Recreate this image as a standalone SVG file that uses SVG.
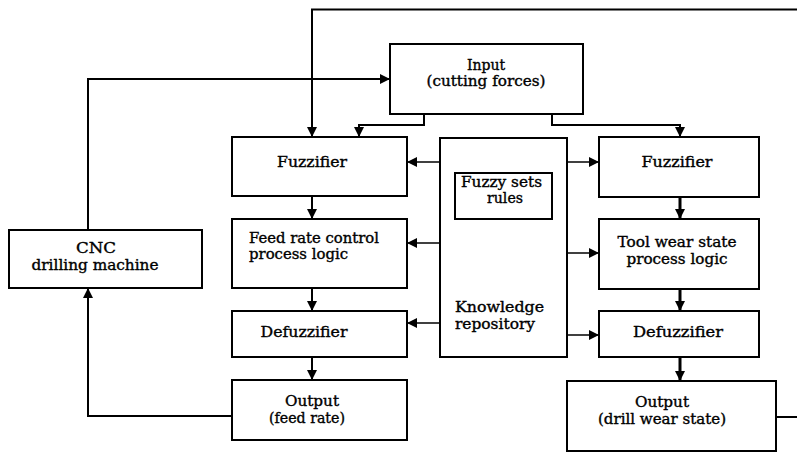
<svg xmlns="http://www.w3.org/2000/svg" width="797" height="452" viewBox="0 0 797 452">
<style>
.box{fill:#fff;stroke:#000;stroke-width:2}
.t{font-family:"DejaVu Serif","Liberation Serif",serif;font-size:14px;fill:#000;stroke:#000;stroke-width:0.35}
.c{text-anchor:middle}
.ln{fill:none;stroke:#000;stroke-width:2}
.thin{fill:none;stroke:#000;stroke-width:1.5}
.thick{fill:none;stroke:#000;stroke-width:3}
</style>
<defs>
<marker id="ah" viewBox="0 0 10 10" refX="10" refY="5" markerWidth="10" markerHeight="10" markerUnits="userSpaceOnUse" orient="auto">
<path d="M0,0 L10,5 L0,10 Z" fill="#000"/>
</marker>
</defs>
<rect width="797" height="452" fill="#fff"/>
<g id="connectors">
<path class="ln" d="M797,9.5 H312 V137" marker-end="url(#ah)"/>
<path class="ln" d="M88,230 V79 H390" marker-end="url(#ah)"/>
<path class="ln" d="M424,114 V125 H359 V137" marker-end="url(#ah)"/>
<path class="ln" d="M552,114 V125 H680 V137" marker-end="url(#ah)"/>
<path class="thin" d="M440,162 H407" marker-end="url(#ah)"/>
<path class="thin" d="M567,162 H599" marker-end="url(#ah)"/>
<path class="thin" d="M440,243 H407" marker-end="url(#ah)"/>
<path class="thin" d="M567,253 H599" marker-end="url(#ah)"/>
<path class="thin" d="M440,323 H407" marker-end="url(#ah)"/>
<path class="thin" d="M567,335 H599" marker-end="url(#ah)"/>
<path class="ln" d="M312,196 V219" marker-end="url(#ah)"/>
<path class="ln" d="M312,288 V311" marker-end="url(#ah)"/>
<path class="ln" d="M312,357 V380" marker-end="url(#ah)"/>
<path class="thick" d="M680,197 V219" marker-end="url(#ah)"/>
<path class="thick" d="M680,289 V311" marker-end="url(#ah)"/>
<path class="thick" d="M680,357 V381" marker-end="url(#ah)"/>
<path class="ln" d="M232,416 H88 V288" marker-end="url(#ah)"/>
<path class="ln" d="M776,417 H797"/>
</g>
<g id="input">
<rect class="box" x="390" y="44" width="193" height="70"/>
<text class="t c" x="486" y="70">Input</text>
<text class="t c" x="486" y="86" textLength="119" lengthAdjust="spacingAndGlyphs">(cutting forces)</text>
</g>
<g id="fuzzifier-left">
<rect class="box" x="232" y="137" width="175" height="59"/>
<text class="t c" x="312" y="167" textLength="70" lengthAdjust="spacingAndGlyphs">Fuzzifier</text>
</g>
<g id="fuzzifier-right">
<rect class="box" x="599" y="137" width="160" height="60"/>
<text class="t c" x="677" y="167" textLength="71" lengthAdjust="spacingAndGlyphs">Fuzzifier</text>
</g>
<g id="knowledge">
<rect class="box" x="440" y="138" width="127" height="219"/>
<text class="t" x="455" y="312" textLength="89" lengthAdjust="spacingAndGlyphs">Knowledge</text>
<text class="t" x="455" y="329" textLength="80" lengthAdjust="spacingAndGlyphs">repository</text>
</g>
<g id="fuzzy-sets">
<rect class="box" x="455" y="173" width="97" height="46"/>
<text class="t" x="461" y="187" textLength="81" lengthAdjust="spacingAndGlyphs">Fuzzy sets</text>
<text class="t c" x="505" y="203" textLength="36" lengthAdjust="spacingAndGlyphs">rules</text>
</g>
<g id="feed-rate-logic">
<rect class="box" x="232" y="219" width="175" height="69"/>
<text class="t" x="249" y="243" textLength="130" lengthAdjust="spacingAndGlyphs">Feed rate control</text>
<text class="t" x="249" y="259" textLength="99" lengthAdjust="spacingAndGlyphs">process logic</text>
</g>
<g id="tool-wear-logic">
<rect class="box" x="599" y="219" width="160" height="70"/>
<text class="t c" x="677" y="247" textLength="119" lengthAdjust="spacingAndGlyphs">Tool wear state</text>
<text class="t c" x="677" y="264" textLength="101" lengthAdjust="spacingAndGlyphs">process logic</text>
</g>
<g id="cnc">
<rect class="box" x="9" y="230" width="193" height="58"/>
<text class="t c" x="96" y="253" textLength="40" lengthAdjust="spacingAndGlyphs">CNC</text>
<text class="t c" x="95" y="270" textLength="127" lengthAdjust="spacingAndGlyphs">drilling machine</text>
</g>
<g id="defuzzifier-left">
<rect class="box" x="232" y="311" width="175" height="46"/>
<text class="t c" x="304" y="337" textLength="87" lengthAdjust="spacingAndGlyphs">Defuzzifier</text>
</g>
<g id="defuzzifier-right">
<rect class="box" x="599" y="311" width="160" height="46"/>
<text class="t c" x="678" y="337" textLength="90" lengthAdjust="spacingAndGlyphs">Defuzzifier</text>
</g>
<g id="output-left">
<rect class="box" x="232" y="380" width="175" height="60"/>
<text class="t c" x="312" y="406" textLength="54" lengthAdjust="spacingAndGlyphs">Output</text>
<text class="t c" x="307" y="423" textLength="76" lengthAdjust="spacingAndGlyphs">(feed rate)</text>
</g>
<g id="output-right">
<rect class="box" x="567" y="381" width="209" height="70"/>
<text class="t c" x="662" y="407" textLength="54" lengthAdjust="spacingAndGlyphs">Output</text>
<text class="t c" x="662" y="424" textLength="128" lengthAdjust="spacingAndGlyphs">(drill wear state)</text>
</g>
</svg>
